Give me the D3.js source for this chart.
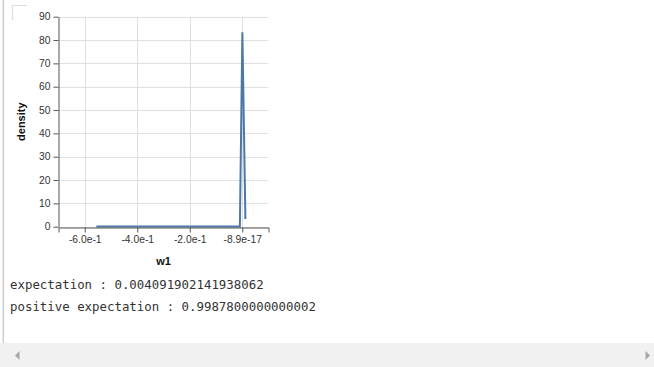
<!DOCTYPE html>
<html>
<head>
<meta charset="utf-8">
<script src="https://cdn.jsdelivr.net/npm/d3@7"></script>
<style>
  html, body { margin: 0; padding: 0; background: #fff; overflow: hidden; }
  svg { display: block; }
</style>
</head>
<body>
<script>
// Density estimate of w1
const w1Values = [-0.556, -0.5, -0.4, -0.3, -0.2, -0.1, -0.009, 0.0005, 0.012];
const densityValues = [0.1, 0.1, 0.1, 0.1, 0.1, 0.1, 0.1, 83.3, 3.3];

const xTickValues = [-0.6, -0.4, -0.2, -8.9e-17];
const xTickLabels = ["-6.0e-1", "-4.0e-1", "-2.0e-1", "-8.9e-17"];
const yTickValues = [0, 10, 20, 30, 40, 50, 60, 70, 80, 90];

const summaryLines = [
  "expectation : 0.004091902141938062",
  "positive expectation : 0.9987800000000002"
];

const W = 654, H = 367;
const svg = d3.select("body").append("svg").attr("width", W).attr("height", H);

// output cell frame
svg.append("rect").attr("x", 2.5).attr("y", 0).attr("width", 1.6).attr("height", 343)
  .attr("fill", "#d0d0d0");
svg.append("path").attr("d", "M12.5,20 V5.5 H27").attr("fill", "none")
  .attr("stroke", "#dcdcdc").attr("stroke-width", 1.2);

const plot = { left: 58.5, right: 268.5, top: 16.7, bottom: 226.7 };

const x = d3.scaleLinear().domain([-0.7, 0.1]).range([plot.left, plot.right]);
const y = d3.scaleLinear().domain([0, 90]).range([plot.bottom, plot.top]);

const g = svg.append("g");

// grid
g.append("g").selectAll("line").data(yTickValues).join("line")
  .attr("x1", plot.left).attr("x2", plot.right)
  .attr("y1", d => Math.round(y(d)) + 0.5).attr("y2", d => Math.round(y(d)) + 0.5)
  .attr("stroke", "#e0e0e0").attr("stroke-width", 1);
g.append("g").selectAll("line").data(xTickValues).join("line")
  .attr("x1", d => Math.round(x(d)) + 0.5).attr("x2", d => Math.round(x(d)) + 0.5)
  .attr("y1", plot.top).attr("y2", plot.bottom)
  .attr("stroke", "#e0e0e0").attr("stroke-width", 1);

// density line
const line = d3.line().x((d, i) => x(w1Values[i])).y(d => y(d));
g.append("path").datum(densityValues)
  .attr("d", line).attr("fill", "none")
  .attr("stroke", "#4c78a8").attr("stroke-width", 2).attr("stroke-linejoin", "miter");

// axes
const font = "'Liberation Sans', Arial, Helvetica, sans-serif";
const xAxis = d3.axisBottom(x).tickValues(xTickValues)
  .tickFormat((d, i) => xTickLabels[i]).tickSize(5).tickSizeOuter(5).tickPadding(3);
const yAxis = d3.axisLeft(y).tickValues(yTickValues).tickSize(5).tickSizeOuter(0).tickPadding(3);

const gx = g.append("g").attr("transform", `translate(0,${Math.round(plot.bottom) + 0.5})`).call(xAxis);
const gy = g.append("g").attr("transform", `translate(${Math.round(plot.left) - 0.5},0)`).call(yAxis);
[gx, gy].forEach(a => {
  a.selectAll("path, line").attr("stroke", "#555");
  a.selectAll("text").attr("fill", "#333").style("font-family", font).style("font-size", "10.3px");
});

g.append("text").attr("x", (plot.left + plot.right) / 2).attr("y", 265)
  .attr("text-anchor", "middle").attr("fill", "#111")
  .style("font-family", font).style("font-size", "11px").style("font-weight", "bold")
  .text("w1");
g.append("text").attr("transform", `translate(25,${(plot.top + plot.bottom) / 2}) rotate(-90)`)
  .attr("text-anchor", "middle").attr("fill", "#111")
  .style("font-family", font).style("font-size", "11px").style("font-weight", "bold")
  .text("density");

// printed summary
svg.append("g").selectAll("text").data(summaryLines).join("text")
  .attr("x", 10).attr("y", (d, i) => 289 + i * 21.5)
  .attr("fill", "#333")
  .style("font-family", "'DejaVu Sans Mono', monospace").style("font-size", "12.4px")
  .text(d => d);

// horizontal scrollbar
svg.append("rect").attr("x", 0).attr("y", 343).attr("width", W).attr("height", H - 343)
  .attr("fill", "#f1f1f1");
svg.append("path").attr("d", "M15,355.5 L19.5,351 L19.5,360 Z").attr("fill", "#a8a8a8");
svg.append("path").attr("d", "M650,355.5 L645.5,351 L645.5,360 Z").attr("fill", "#a8a8a8");
</script>
</body>
</html>
